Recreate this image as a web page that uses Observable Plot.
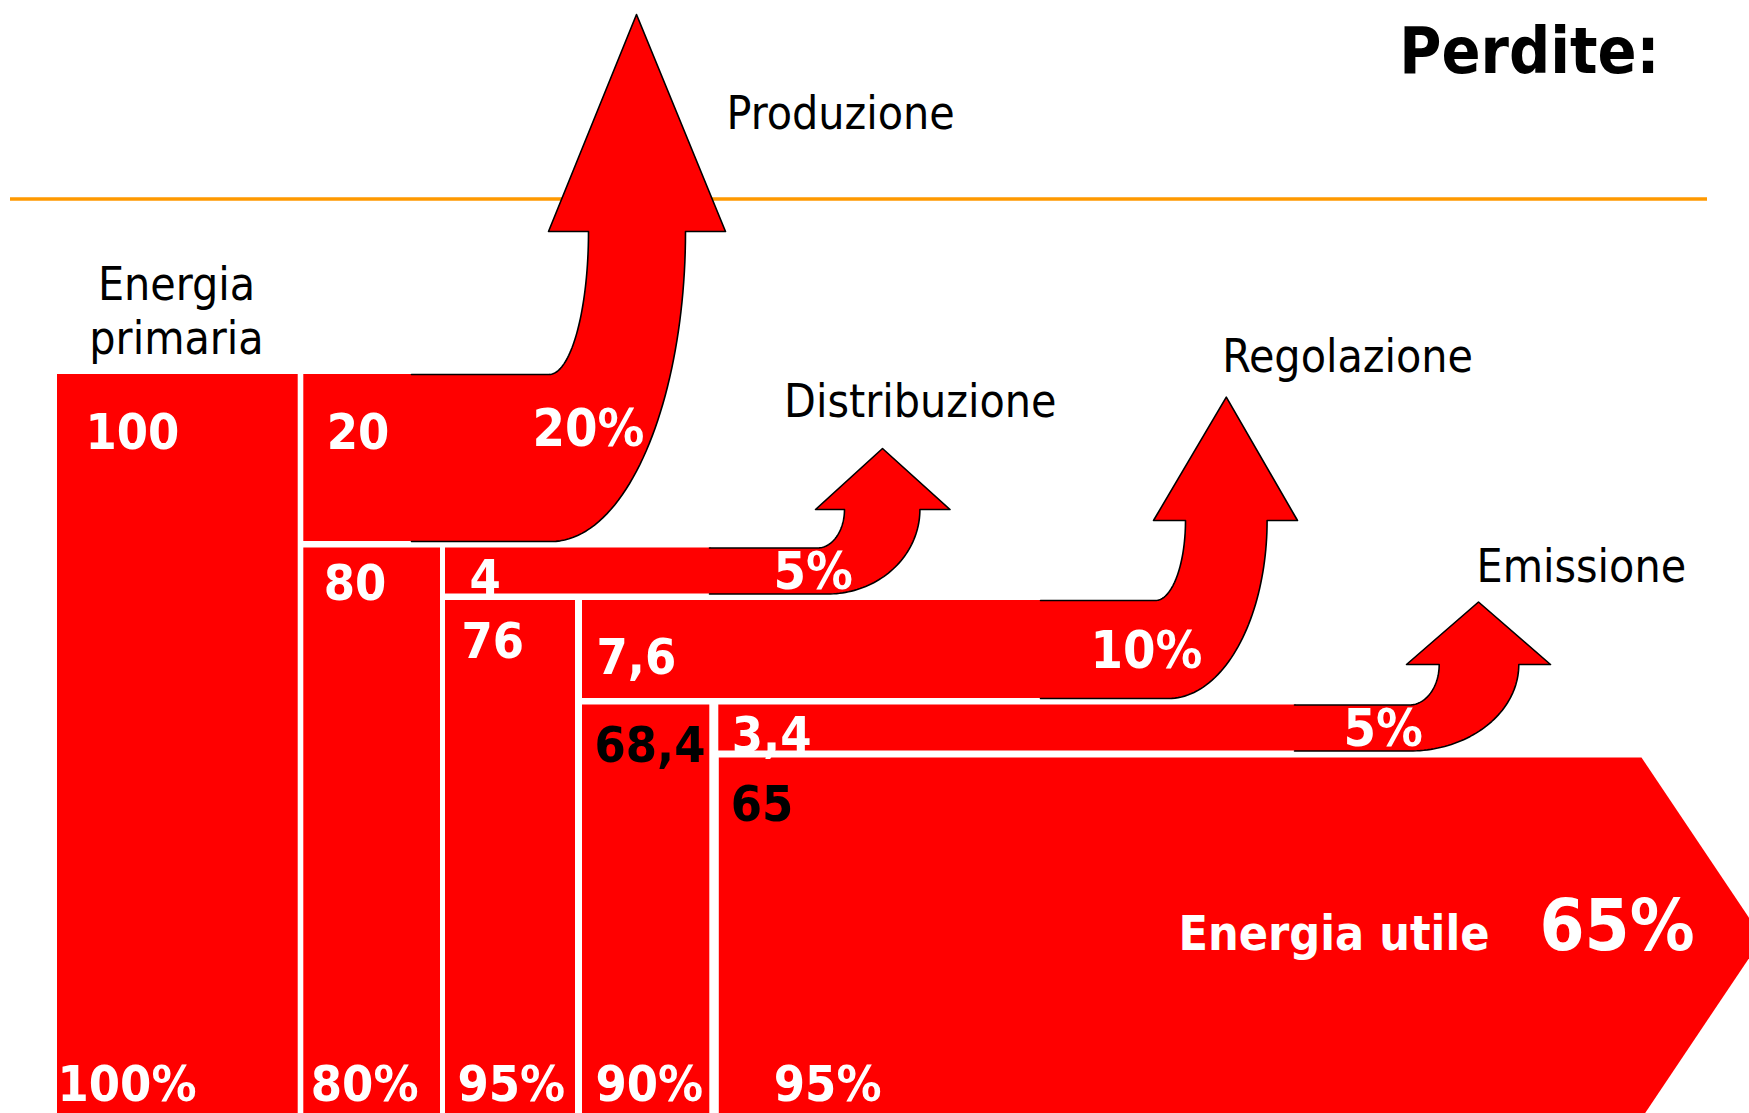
<!DOCTYPE html>
<html>
<head>
<meta charset="utf-8">
<script src="https://cdn.jsdelivr.net/npm/d3@7"></script>
<script src="https://cdn.jsdelivr.net/npm/@observablehq/plot@0.6"></script>
<style>
  html, body { margin: 0; padding: 0; background: #ffffff; overflow: hidden; }
  #chart { width: 1749px; height: 1113px; overflow: hidden; }
  #chart svg { display: block; max-width: none; }
  #chart svg text { font-stretch: condensed; }
</style>
</head>
<body>
<div id="chart"></div>
<script>
// ---------------- data ----------------
const inputLabel = "Energia primaria";
const stageValues = [100, 80, 76, 68.4, 65];          // energia rimasta a ogni stadio
const stageEfficiency = [100, 80, 95, 90, 95];        // rendimento di ogni stadio (%)
const lossNames = ["Produzione", "Distribuzione", "Regolazione", "Emissione"];
const lossValues = [20, 4, 7.6, 3.4];                 // perdite assolute
const lossPercent = [20, 5, 10, 5];                   // perdite in % dello stadio
const usefulLabel = "Energia utile";
const usefulPercent = 65;
const titleText = "Perdite:";

// ---------------- layout (diagram geometry) ----------------
const W = 1749, H = 1113;
const RED = "#ff0000";
const COND = "'DejaVu Sans Condensed', 'DejaVu Sans', sans-serif";
const layout = {
  top0: 374, bottom: 1118, gap: 6.5,
  thickness: d3.scaleLinear().domain([0, 5, 10, 20]).range([0, 46, 98, 167]),
  columns: [[57, 297.7], [303.3, 440], [445, 575], [582, 709.3], [718.3, 1641]],
  usefulHead: 121,
  valuePad: [28, 20, 16, 12, 12],
  valueDrop: [74, 52, 57, 57, 63],
  bandPad: [23, 24, 14, 13],
  effPad: [0, 7, 12, 13, 55],
  effBaseline: 1100,
  darkValue: [false, false, false, true, true],
  arrows: [
    {start: 411, bend: 548.5, outerBend: 551, shaftIn: 588, shaftOut: 685, headY: 231, headL: 548, headR: 725, tipX: 636, tipY: 14, labelX: 532, nameX: 726, nameY: 128},
    {start: 709, bend: 817, outerBend: 827, shaftIn: 844, shaftOut: 919.4, headY: 509, headL: 815, headR: 949.5, tipX: 882, tipY: 448, labelX: 773, nameX: 783.6, nameY: 416},
    {start: 1040, bend: 1155, outerBend: 1168, shaftIn: 1185, shaftOut: 1266.6, headY: 520, headL: 1153, headR: 1297, tipX: 1225.8, tipY: 396.7, labelX: 1090, nameX: 1221.7, nameY: 371},
    {start: 1294, bend: 1409, outerBend: 1409, shaftIn: 1438.7, shaftOut: 1518.3, headY: 664, headL: 1406, headR: 1550, tipX: 1478, tipY: 601.5, labelX: 1343, nameX: 1476, nameY: 581.7}
  ],
  separator: {y: 198.5, x1: 10, x2: 1707},
  title: {x: 1659, y: 72},
  input: {x: 176, y: 353},
  useful: {labelX: 1178, pctX: 1539, dy: 12}
};

const fmt = v => String(v).replace(".", ",");

// ---------------- build geometry from data ----------------
const tops = [layout.top0];
const bands = [];
for (let i = 0; i < lossPercent.length; i++) {
  const t = layout.thickness(lossPercent[i]);
  bands.push({
    i,
    x1: layout.columns[i + 1][0],
    x2: layout.arrows[i].start + 2,
    y1: tops[i],
    y2: tops[i] + t,
    t
  });
  tops.push(bands[i].y2 + layout.gap);
}

const columnRects = stageValues.slice(0, -1).map((v, i) => ({
  x1: layout.columns[i][0], x2: layout.columns[i][1], y1: tops[i], y2: layout.bottom
}));

// polygon points of the loss arrows and of the final useful-energy arrow
const fillPts = [];
const outlinePts = [];
const N = 48;
bands.forEach((b, i) => {
  const a = layout.arrows[i];
  const pts = [];
  pts.push([a.start, b.y1]);
  const rxi = a.shaftIn - a.bend, ryi = b.y1 - a.headY;
  for (let k = 0; k <= N; k++) {
    const th = Math.PI / 2 * (1 - k / N);
    pts.push([a.bend + rxi * Math.cos(th), a.headY + ryi * Math.sin(th)]);
  }
  pts.push([a.headL, a.headY], [a.tipX, a.tipY], [a.headR, a.headY]);
  const rxo = a.shaftOut - a.outerBend, ryo = b.y2 - a.headY;
  for (let k = 0; k <= N; k++) {
    const th = Math.PI / 2 * (k / N);
    pts.push([a.outerBend + rxo * Math.cos(th), a.headY + ryo * Math.sin(th)]);
  }
  pts.push([a.start, b.y2]);
  pts.forEach(([x, y]) => {
    fillPts.push({id: "loss" + i, x, y});
    outlinePts.push({id: "loss" + i, x, y});
  });
});
{
  const last = stageValues.length - 1;
  const [x1, x2] = layout.columns[last];
  const yTop = tops[last], yBot = layout.bottom;
  const yMid = (yTop + yBot) / 2;
  [[x1, yTop], [x2, yTop], [x2 + layout.usefulHead, yMid], [x2, yBot], [x1, yBot]]
    .forEach(([x, y]) => fillPts.push({id: "useful", x, y}));
}
const usefulMid = (tops[stageValues.length - 1] + layout.bottom) / 2;

// ---------------- labels ----------------
const valueLabels = stageValues.map((v, i) => ({
  text: fmt(v),
  x: layout.columns[i][0] + layout.valuePad[i],
  y: tops[i] + layout.valueDrop[i],
  dark: layout.darkValue[i]
}));
const bandLabels = bands.map((b, i) => ({
  text: fmt(lossValues[i]),
  x: b.x1 + layout.bandPad[i],
  y: b.y1 + Math.min(b.t / 2 + 24, 74)
}));
const lossPctLabels = bands.map((b, i) => ({
  text: lossPercent[i] + "%",
  x: layout.arrows[i].labelX,
  y: b.y1 + Math.min(b.t / 2 + 18, 71)
}));
const effLabels = stageEfficiency.map((p, i) => ({
  text: p + "%",
  x: layout.columns[i][0] + layout.effPad[i],
  y: layout.effBaseline
}));
const nameLabels = lossNames.map((n, i) => ({
  text: n, x: layout.arrows[i].nameX, y: layout.arrows[i].nameY
}));

const whiteText = [...valueLabels.filter(d => !d.dark), ...bandLabels, ...effLabels];
const darkText = valueLabels.filter(d => d.dark);

const chart = Plot.plot({
  width: W,
  height: H,
  margin: 0,
  x: {domain: [0, W], range: [0, W], axis: null},
  y: {domain: [0, H], range: [0, H], axis: null},
  style: {background: "#ffffff", overflow: "hidden"},
  marks: [
    Plot.ruleY([layout.separator.y], {x1: layout.separator.x1, x2: layout.separator.x2, stroke: "#ff9900", strokeWidth: 3.5}),
    Plot.rect(columnRects, {x1: "x1", x2: "x2", y1: "y1", y2: "y2", fill: RED}),
    Plot.rect(bands, {x1: "x1", x2: "x2", y1: "y1", y2: "y2", fill: RED}),
    Plot.line(fillPts, {x: "x", y: "y", z: "id", fill: RED, stroke: "none", curve: "linear"}),
    Plot.text(whiteText, {x: "x", y: "y", text: "text", fill: "white", fontSize: 50, fontWeight: "bold", fontFamily: COND, textAnchor: "start", lineAnchor: "bottom"}),
    Plot.text(lossPctLabels, {x: "x", y: "y", text: "text", fill: "white", fontSize: 52, fontWeight: "bold", fontFamily: COND, textAnchor: "start", lineAnchor: "bottom"}),
    Plot.text(darkText, {x: "x", y: "y", text: "text", fill: "black", fontSize: 50, fontWeight: "bold", fontFamily: COND, textAnchor: "start", lineAnchor: "bottom"}),
    Plot.line(outlinePts, {x: "x", y: "y", z: "id", fill: "none", stroke: "black", strokeWidth: 1.6, curve: "linear"}),
    Plot.text(nameLabels, {x: "x", y: "y", text: "text", fill: "black", fontSize: 46, fontFamily: COND, textAnchor: "start", lineAnchor: "bottom"}),
    Plot.text([inputLabel.replace(" ", "\n")], {x: () => layout.input.x, y: () => layout.input.y, text: d => d, fill: "black", fontSize: 46, fontFamily: COND, textAnchor: "middle", lineAnchor: "bottom", lineHeight: 1.16}),
    Plot.text([usefulLabel], {x: () => layout.useful.labelX, y: () => usefulMid + layout.useful.dy, text: d => d, fill: "white", fontSize: 48, fontWeight: "bold", fontFamily: COND, textAnchor: "start", lineAnchor: "bottom"}),
    Plot.text([usefulPercent + "%"], {x: () => layout.useful.pctX, y: () => usefulMid + layout.useful.dy, text: d => d, fill: "white", fontSize: 72, fontWeight: "bold", fontFamily: COND, textAnchor: "start", lineAnchor: "bottom"}),
    Plot.text([titleText], {x: () => layout.title.x, y: () => layout.title.y, text: d => d, fill: "black", fontSize: 64, fontWeight: "bold", fontFamily: COND, textAnchor: "end", lineAnchor: "bottom"})
  ]
});
document.getElementById("chart").appendChild(chart);
</script>
</body>
</html>
